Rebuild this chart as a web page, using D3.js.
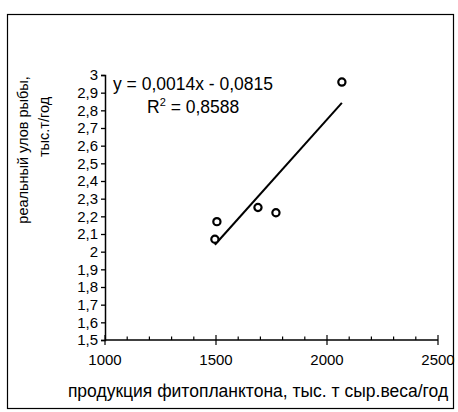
<!DOCTYPE html>
<html><head><meta charset="utf-8">
<script src="https://cdn.jsdelivr.net/npm/d3@7"></script>
<style>body{margin:0;background:#fff}svg text{font-family:"Liberation Sans",Arial,sans-serif;fill:#000}</style>
</head><body><svg id="c" width="458" height="412"></svg>
<script>
const phyto = [1495, 1504, 1689, 1770, 2067];
const catchFish = [2.07, 2.17, 2.25, 2.22, 2.96];
const xTicks = [1000, 1500, 2000, 2500];
const xMinor = d3.range(1000, 2501, 100);
const yTicks = [1.5,1.6,1.7,1.8,1.9,2,2.1,2.2,2.3,2.4,2.5,2.6,2.7,2.8,2.9,3];
const eqText = "y = 0,0014x - 0,0815";
const r2Value = "0,8588";
const xTitle = "продукция фитопланктона, тыс. т сыр.веса/год";
const yTitle1 = "реальный улов рыбы,";
const yTitle2 = "тыс.т/год";

const svg = d3.select("#c");
const x = d3.scaleLinear().domain([1000, 2500]).range([105, 438]);
const y = d3.scaleLinear().domain([1.5, 3]).range([340, 75]);
const fmt = v => String(v).replace(".", ",");

// frame
svg.append("rect").attr("x", 7.5).attr("y", 14.5).attr("width", 446).attr("height", 394)
  .attr("fill", "none").attr("stroke", "#000").attr("stroke-width", 1.2);

// y axis
const ya = svg.append("g").attr("transform", `translate(${x(1000)},0)`)
  .call(d3.axisLeft(y).tickValues(yTicks).tickSize(4).tickPadding(3).tickFormat(fmt));
ya.select(".domain").attr("stroke-width", 1.5);
ya.selectAll("line").attr("stroke-width", 1.3);
ya.selectAll("text").attr("font-size", 15).attr("font-family", null);

// x axis
const xa = svg.append("g").attr("transform", `translate(0,${y(1.5)})`);
xa.append("line").attr("x1", x(1000)).attr("x2", x(2500)).attr("stroke", "#000").attr("stroke-width", 1.5);
xa.selectAll("line.minor").data(xMinor.filter(v => v % 500 !== 0)).join("line")
  .attr("x1", d => x(d)).attr("x2", d => x(d)).attr("y1", 0).attr("y2", -3.5)
  .attr("stroke", "#000").attr("stroke-width", 1.2);
xa.selectAll("line.major").data(xTicks).join("line")
  .attr("x1", d => x(d)).attr("x2", d => x(d)).attr("y1", -5).attr("y2", 5)
  .attr("stroke", "#000").attr("stroke-width", 1.2);
xa.selectAll("text").data(xTicks).join("text")
  .attr("x", d => x(d)).attr("y", 25).attr("text-anchor", "middle").attr("font-size", 15)
  .text(d => d);

// trendline (least squares)
const n = phyto.length;
const mx = d3.mean(phyto), my = d3.mean(catchFish);
let sxy = 0, sxx = 0;
for (let i = 0; i < n; i++) { sxy += (phyto[i]-mx)*(catchFish[i]-my); sxx += (phyto[i]-mx)**2; }
const b = sxy / sxx, a = my - b * mx;
const [x0, x1] = d3.extent(phyto);
svg.append("line").attr("x1", x(x0)).attr("y1", y(a + b*x0)).attr("x2", x(x1)).attr("y2", y(a + b*x1))
  .attr("stroke", "#000").attr("stroke-width", 2);

// points
svg.selectAll("circle").data(phyto).join("circle")
  .attr("cx", d => x(d)).attr("cy", (d, i) => y(catchFish[i])).attr("r", 3.6)
  .attr("fill", "#fff").attr("stroke", "#000").attr("stroke-width", 2.2);

// equation
svg.append("text").attr("x", 113).attr("y", 90).attr("font-size", 17.5).text(eqText);
const r2 = svg.append("text").attr("x", 147).attr("y", 113).attr("font-size", 17.5);
r2.append("tspan").text("R");
r2.append("tspan").attr("font-size", 11).attr("dy", -7).text("2");
r2.append("tspan").attr("dy", 7).text(" = " + r2Value);

// axis titles
svg.append("text").attr("transform", "translate(28,150) rotate(-90)").attr("text-anchor", "middle")
  .attr("font-size", 14.5).text(yTitle1);
svg.append("text").attr("transform", "translate(49,127) rotate(-90)").attr("text-anchor", "middle")
  .attr("font-size", 14.5).text(yTitle2);
svg.append("text").attr("x", 258).attr("y", 397).attr("text-anchor", "middle").attr("font-size", 17.5)
  .text(xTitle);
</script></body></html>
